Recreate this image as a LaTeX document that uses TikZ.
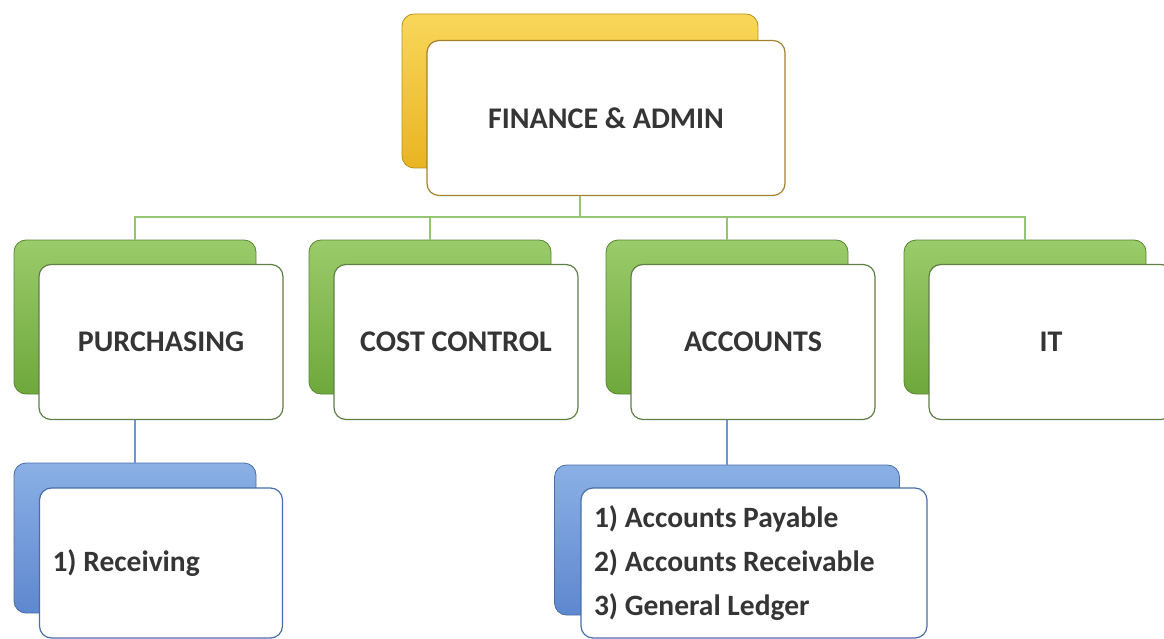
\documentclass[tikz,border=0pt]{standalone}
\usepackage{fontspec}
\setmainfont{Carlito}
\usetikzlibrary{positioning}

\definecolor{txtgray}{HTML}{353535}
\definecolor{goldtop}{HTML}{F9D75A}
\definecolor{goldbot}{HTML}{E9B422}
\definecolor{goldline}{HTML}{A5802E}
\definecolor{greentop}{HTML}{9BCB6A}
\definecolor{greenbot}{HTML}{6EA83C}
\definecolor{greenline}{HTML}{5E7F45}
\definecolor{linkgreen}{HTML}{93C572}
\definecolor{bluetop}{HTML}{8BB0E6}
\definecolor{bluebot}{HTML}{5E88CF}
\definecolor{blueline}{HTML}{4A6FA8}
\definecolor{linkblue}{HTML}{6A95D6}

\tikzset{
    box/.style={rounded corners=12pt, inner sep=0pt, minimum width=242pt, minimum height=154pt},
    backbox/.style={box, draw=#1!80!black, line width=0.8pt},
    frontbox/.style={box, draw=#1, line width=1.2pt, fill=white, text=txtgray,
        font=\bfseries\fontsize{30}{36}\selectfont},
    listbox/.style={frontbox=#1, align=left, inner xsep=13pt,
        font=\bfseries\fontsize{29.5}{44}\selectfont,
        execute at begin node={\spaceskip=0pt\xspaceskip=0pt\relax}},
    greenlink/.style={draw=linkgreen, line width=2pt},
    bluelink/.style={draw=linkblue, line width=2pt}
}

\begin{document}
\begin{tikzpicture}[x=1pt, y=-1pt]
    \clip (0,0) rectangle (1164,639);
    \useasboundingbox (0,0) rectangle (1164,639);

    % head
    \node[backbox=goldbot, top color=goldtop, bottom color=goldbot, minimum width=356pt] (finB) at (580,91) {};
    \node[frontbox=goldline, minimum width=358pt, minimum height=155pt] (fin) at (606,118) {FINANCE \& ADMIN};

    % departments
    \foreach \name/\x/\label in {purch/135/PURCHASING, cost/430/COST CONTROL, acc/727/ACCOUNTS, it/1025/IT} {
        \node[backbox=greenbot, top color=greentop, bottom color=greenbot] (\name B) at (\x,317) {};
        \node[frontbox=greenline, minimum width=244pt, minimum height=155pt] (\name) at (\x+26,342) {\label};
    }

    % sub units
    \node[backbox=bluebot, top color=bluetop, bottom color=bluebot, minimum height=150pt] (recvB) at (135,538) {};
    \node[listbox=blueline, text width=217pt, minimum height=150pt] (recv) at (161,563) {1) Receiving};
    \node[backbox=bluebot, top color=bluetop, bottom color=bluebot, minimum width=345pt, minimum height=150pt] (subB) at (727,540) {};
    \node[listbox=blueline, text width=320pt, minimum height=150pt] (sub) at (754,563)
        {1) Accounts Payable\\2) Accounts Receivable\\3) General Ledger};

    % links
    \coordinate (bus) at (580,217);
    \path[greenlink] (finB |- fin.south) -- (bus);
    \foreach \name in {purch, cost, acc, it}
        \path[greenlink] (bus) -| (\name B.north);

    \path[bluelink] (purchB |- purch.south) -- (recvB.north);
    \path[bluelink] (accB |- acc.south) -- (subB.north);
\end{tikzpicture}
\end{document}
